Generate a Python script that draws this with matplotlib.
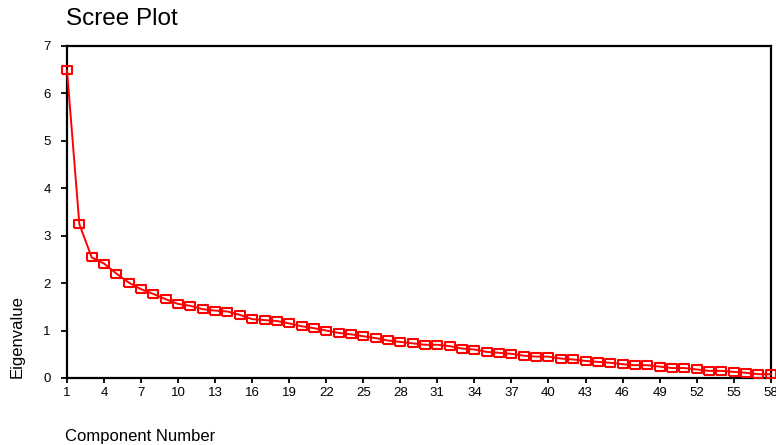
import matplotlib
matplotlib.use("Agg")
import matplotlib.pyplot as plt

plt.rcParams["font.family"] = ["Liberation Sans", "DejaVu Sans"]

# scree plot values
components = list(range(1, 59))
eigenvalues = [
    6.48, 3.24, 2.54, 2.41, 2.20, 2.01, 1.87, 1.77, 1.66, 1.56,
    1.52, 1.45, 1.42, 1.40, 1.33, 1.24, 1.22, 1.20, 1.15, 1.09,
    1.05, 1.00, 0.95, 0.92, 0.88, 0.84, 0.79, 0.76, 0.73, 0.70,
    0.70, 0.67, 0.62, 0.60, 0.55, 0.53, 0.51, 0.47, 0.45, 0.45,
    0.41, 0.39, 0.36, 0.34, 0.32, 0.29, 0.27, 0.27, 0.24, 0.21,
    0.21, 0.18, 0.15, 0.15, 0.13, 0.11, 0.08, 0.08,
]
x_ticks = list(range(1, 59, 3))
y_ticks = [0, 1, 2, 3, 4, 5, 6, 7]

W, H = 776, 445
fig = plt.figure(figsize=(W / 100, H / 100), dpi=100)
ax = fig.add_axes([67 / W, (H - 378) / H, (770.7 - 67) / W, (378 - 45.7) / H])

# wide rectangle marker like the SPSS output
rect = [(-1, -0.65), (1, -0.65), (1, 0.65), (-1, 0.65), (-1, -0.65)]
ax.plot(components, eigenvalues, color="#ff0000", lw=1.4,
        marker=rect, markersize=7.8, markerfacecolor="none",
        markeredgecolor="#ff0000", markeredgewidth=1.5, clip_on=False, zorder=3)

ax.set_xlim(1, 58)
ax.set_ylim(0, 7)
ax.set_xticks(x_ticks)
ax.set_yticks(y_ticks)

for s in ax.spines.values():
    s.set_linewidth(1.6)
    s.set_color("black")

ax.tick_params(axis="y", length=4.3, width=1.3, pad=7.5, labelsize=9.5, colors="black")
ax.tick_params(axis="x", length=3.6, width=1.3, pad=3.0, labelsize=9.5, colors="black")

fig.text(66 / W, 1 - 25 / H, "Scree Plot", fontsize=17.5, va="baseline", ha="left")
fig.text(65 / W, 1 - 440.5 / H, "Component Number", fontsize=12, va="baseline", ha="left")
fig.text(16.7 / W, (H - 378) / H, "Eigenvalue", fontsize=12, rotation=90,
         va="bottom", ha="center")

fig.savefig("out.png", dpi=100)
